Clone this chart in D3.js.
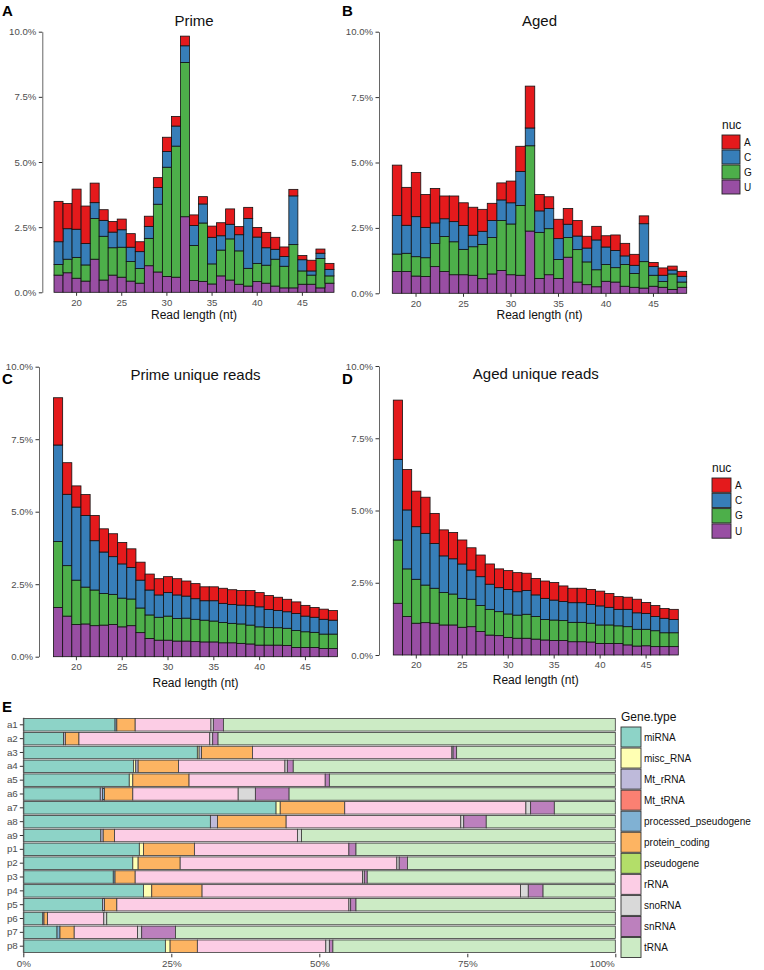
<!DOCTYPE html>
<html><head><meta charset="utf-8">
<script src="https://cdn.jsdelivr.net/npm/d3@7"></script>
<style>
body{margin:0;background:#fff;}
svg{font-family:"Liberation Sans",Arial,Helvetica,sans-serif;}
</style></head>
<body>
<svg id="chart" width="764" height="970"></svg>
<script>
// ---------- DATA ----------
const readLengths = [18,19,20,21,22,23,24,25,26,27,28,29,30,31,32,33,34,35,36,37,38,39,40,41,42,43,44,45,46,47,48];
const nucKeys = ["U","G","C","A"];            // stacked bottom -> top
const nucLegend = ["A","C","G","U"];
const nucColors = {A:"#E41A1C", C:"#377EB8", G:"#4DAF4A", U:"#984EA3"};
const xTicks = [20,25,30,35,40,45];
const yTicks = [0,2.5,5,7.5,10];

// Panel A: Prime (% of reads)
const primeU = [.66,.75,.54,.43,1.27,.47,.66,.58,.43,.35,1.02,.78,.61,.58,2.90,.45,.42,.32,.63,.47,.31,.24,.41,.35,.24,.17,.17,.31,.31,.17,.35];
const primeG = [.41,.52,.80,.62,1.56,1.68,1.05,1.15,.75,.56,1.05,2.60,4.19,5.03,5.92,1.35,2.24,.77,.99,1.58,1.28,.68,.70,.69,1.03,.83,1.66,.51,.35,1.13,.28];
const primeC = [.87,1.17,1.08,.82,.61,.61,.60,.67,.55,.65,.46,.64,.60,.77,.64,.76,.73,1.02,.55,.56,.62,1.91,1.01,.67,.38,.37,1.87,.43,.16,.20,.25];
const primeA = [1.55,.97,1.54,1.44,.75,.41,.41,.41,.52,.38,.39,.38,.55,.37,.37,.41,.28,.43,.50,.59,.31,.43,.37,.59,.46,.37,.25,.16,.41,.16,.23];

// Panel B: Aged
const agedU = [.83,.83,.66,.64,1.02,.83,.71,.71,.69,.56,.74,.87,.71,.69,2.38,.57,.71,.57,1.38,.43,.33,.25,.46,.43,.27,.23,.20,.27,.23,.15,.23];
const agedG = [.67,.70,.74,.72,.88,1.34,1.26,.97,1.09,1.31,1.39,1.91,1.94,2.67,3.26,1.76,1.76,.72,.75,1.24,.87,.65,.64,.55,.83,.53,1.01,.42,.22,.59,.20];
const agedC = [1.47,1.07,1.53,1.16,.79,.68,.77,.91,.44,.50,.65,.79,.81,1.30,.68,.82,.77,.80,.51,.52,.53,1.14,.67,.66,.33,.31,1.45,.33,.24,.15,.22];
const agedA = [1.93,1.45,1.69,1.26,1.32,.87,.98,.87,1.07,.84,.66,.65,.83,.96,1.60,.63,.45,.74,.60,.59,.45,.52,.43,.59,.48,.42,.30,.16,.28,.15,.19];

// Panel C: Prime unique reads
const primeUniqU = [1.70,1.40,1.11,1.13,1.07,1.09,1.11,1.03,1.07,.83,.63,.57,.57,.54,.54,.52,.51,.51,.48,.48,.46,.44,.40,.40,.40,.39,.32,.32,.32,.28,.28];
const primeUniqG = [2.27,1.74,1.53,1.27,1.23,1.09,1.04,.99,.92,.85,.81,.79,.83,.78,.79,.77,.75,.72,.70,.67,.67,.65,.63,.61,.60,.59,.58,.54,.52,.50,.50];
const primeUniqC = [3.33,2.46,2.52,2.47,1.70,1.43,1.30,1.18,1.09,.96,.86,.77,.81,.81,.76,.71,.67,.70,.66,.65,.65,.67,.69,.62,.59,.57,.59,.54,.52,.51,.48];
const primeUniqA = [1.63,1.09,.73,.72,.87,.80,.79,.74,.64,.62,.55,.56,.55,.56,.52,.52,.48,.48,.52,.51,.50,.52,.49,.48,.46,.43,.40,.37,.34,.35,.33];

// Panel D: Aged unique reads
const agedUniqU = [1.79,1.33,1.10,1.12,1.10,1.04,1.04,.96,.98,.81,.69,.67,.61,.58,.58,.55,.52,.50,.50,.46,.46,.45,.40,.40,.40,.35,.31,.32,.29,.29,.29];
const agedUniqG = [2.19,1.65,1.52,1.30,1.21,1.12,1.07,1.00,.95,.90,.89,.83,.81,.80,.83,.78,.71,.71,.69,.67,.67,.65,.64,.64,.61,.63,.58,.57,.55,.48,.48];
const agedUniqC = [2.79,2.04,1.82,1.79,1.55,1.27,1.22,1.19,1.01,1.00,.87,.83,.85,.81,.82,.75,.73,.69,.66,.68,.68,.65,.66,.61,.57,.60,.57,.55,.49,.50,.46];
const agedUniqA = [2.05,1.40,1.23,1.25,1.04,.90,.91,.83,.77,.75,.70,.65,.65,.66,.60,.57,.60,.61,.54,.50,.50,.52,.51,.48,.44,.42,.47,.38,.38,.34,.35];

// Panel E: gene type composition (%)
const samples = ["a1","a2","a3","a4","a5","a6","a7","a8","a9","p1","p2","p3","p4","p5","p6","p7","p8"];
const geneTypes = ["miRNA","misc_RNA","Mt_rRNA","Mt_tRNA","processed_pseudogene","protein_coding","pseudogene","rRNA","snoRNA","snRNA","tRNA"];
const geneColors = ["#8DD3C7","#FFFFB3","#BEBADA","#FB8072","#80B1D3","#FDB462","#B3DE69","#FCCDE5","#D9D9D9","#BC80BD","#CCEBC5"];
const miRNA   = [15.5,6.8,29.4,18.6,17.9,13.0,42.7,31.6,13.1,19.6,18.5,15.2,20.3,13.4,3.3,5.7,24.0];
const miscRNA = [0,0,0.3,0.4,0.6,0,0.7,0,0,0.7,0.9,0,1.4,0,0,0,0.8];
const MtrRNA  = [0,0.3,0.4,0.4,0,0.4,0,1.2,0.4,0,0,0,0,0.3,0.2,0,0];
const MttRNA  = [0,0,0,0,0,0,0,0,0,0,0,0,0,0,0,0,0];
const procPseudo = [0.3,0,0,0,0,0.3,0,0,0,0,0,0.3,0,0,0,0.5,0];
const proteinCoding = [3.1,2.3,8.6,6.8,9.5,4.8,10.9,11.6,1.9,8.6,7.1,3.4,8.5,2.1,0.6,2.4,4.6];
const pseudogene = [0,0,0,0,0,0,0,0,0,0,0,0,0,0,0,0,0];
const rRNA    = [12.8,22.1,33.7,18.0,23.0,17.8,30.6,29.5,30.9,26.1,36.6,38.4,53.8,39.2,9.5,10.7,21.7];
const snoRNA  = [0.4,0.5,0.2,0.4,0,2.9,0.8,0.5,0.7,0,0.4,0.3,1.3,0.3,0.5,0.7,0.6];
const snRNA   = [1.7,0.9,0.6,1.0,0.7,5.7,4.0,3.8,0,1.2,1.4,0.5,2.5,0.9,0,5.7,0.6];
const tRNA    = [66.2,67.1,26.8,54.4,48.3,55.1,10.3,21.8,53.0,43.8,35.1,41.9,12.2,43.8,85.9,74.3,47.7];
const percentTicks = [0,25,50,75,100];

// ---------- DRAW ----------
const svg = d3.select("#chart");
const tickGray = "#4d4d4d";

function nucPanel(cfg){
  const rows = readLengths.map((len,i)=>({len, U:cfg.U[i], G:cfg.G[i], C:cfg.C[i], A:cfg.A[i]}));
  const x = d3.scaleBand().domain(readLengths).range([cfg.x0,cfg.x1]).padding(0);
  const y = d3.scaleLinear().domain([0,10]).range([cfg.y0,cfg.y1]);
  const series = d3.stack().keys(nucKeys)(rows);
  const g = svg.append("g");
  g.selectAll("g.s").data(series).join("g").attr("fill",d=>nucColors[d.key])
    .selectAll("rect").data(d=>d).join("rect")
    .attr("x",d=>x(d.data.len)).attr("width",x.bandwidth())
    .attr("y",d=>y(d[1])).attr("height",d=>y(d[0])-y(d[1]))
    .attr("stroke","#111").attr("stroke-width",0.8);
  // y axis
  const ya = g.append("g").attr("transform",`translate(${cfg.ax},0)`)
    .call(d3.axisLeft(y).tickValues(yTicks).tickFormat(d=>d.toFixed(1)+"%").tickSize(3.5).tickSizeOuter(0).tickPadding(2.5));
  ya.select(".domain").attr("stroke","#555").attr("stroke-width",0.9);
  ya.selectAll(".tick line").attr("stroke","#333");
  ya.selectAll("text").attr("fill",tickGray).style("font-size","9.6px");
  // x axis
  const xa = g.append("g").attr("transform",`translate(0,${cfg.y0})`)
    .call(d3.axisBottom(x).tickValues(xTicks).tickSize(3.5).tickPadding(3));
  xa.select(".domain").remove();
  xa.selectAll(".tick line").attr("stroke","#333");
  xa.selectAll("text").attr("fill",tickGray).style("font-size","9.6px");
  // titles
  g.append("text").attr("x",(cfg.x0+cfg.x1)/2).attr("y",cfg.titleY).attr("text-anchor","middle")
    .style("font-size","15px").attr("fill","#111").text(cfg.title);
  g.append("text").attr("x",(cfg.x0+cfg.x1)/2).attr("y",cfg.xlabY).attr("text-anchor","middle")
    .style("font-size","12px").attr("fill","#111").text("Read length (nt)");
  g.append("text").attr("x",cfg.letterX).attr("y",cfg.letterY)
    .style("font-size","15px").style("font-weight","bold").attr("fill","#000").text(cfg.letter);
}

nucPanel({U:primeU,G:primeG,C:primeC,A:primeA,x0:54,x1:334,y0:292.3,y1:31.7,ax:42.3,title:"Prime",titleY:26,xlabY:319,letter:"A",letterX:2,letterY:16});
nucPanel({U:agedU,G:agedG,C:agedC,A:agedA,x0:392.3,x1:686.7,y0:293.3,y1:31.7,ax:379,title:"Aged",titleY:26,xlabY:319,letter:"B",letterX:342,letterY:16});
nucPanel({U:primeUniqU,G:primeUniqG,C:primeUniqC,A:primeUniqA,x0:53.5,x1:337.5,y0:656.7,y1:366.7,ax:39,title:"Prime unique reads",titleY:380,xlabY:687,letter:"C",letterX:2,letterY:384});
nucPanel({U:agedUniqU,G:agedUniqG,C:agedUniqC,A:agedUniqA,x0:393.3,x1:678.3,y0:655,y1:366,ax:379,title:"Aged unique reads",titleY:379,xlabY:684,letter:"D",letterX:342,letterY:384});

function nucLegendDraw(lx, ly, kw, kh){
  const g = svg.append("g");
  g.append("text").attr("x",lx).attr("y",ly).style("font-size","12px").attr("fill","#111").text("nuc");
  nucLegend.forEach((k,i)=>{
    const ky = ly+6+i*(kh+1);
    g.append("rect").attr("x",lx).attr("y",ky).attr("width",kw).attr("height",kh)
      .attr("fill",nucColors[k]).attr("stroke","#222").attr("stroke-width",0.9);
    g.append("text").attr("x",lx+kw+4).attr("y",ky+kh/2).attr("dy","0.35em")
      .style("font-size","10px").attr("fill","#111").text(k);
  });
}
nucLegendDraw(722,129,18,14);
nucLegendDraw(712,472,19,14.3);

// Panel E
(function(){
  const cols = [miRNA,miscRNA,MtrRNA,MttRNA,procPseudo,proteinCoding,pseudogene,rRNA,snoRNA,snRNA,tRNA];
  const rows = samples.map((s,i)=>{const o={s}; geneTypes.forEach((t,j)=>o[t]=cols[j][i]); return o;});
  const x = d3.scaleLinear().domain([0,100]).range([23.3,615.3]);
  const y = d3.scaleBand().domain(samples).range([717.2,953.8]).padding(0.1);
  const series = d3.stack().keys(geneTypes).offset(d3.stackOffsetExpand)(rows);
  const color = d3.scaleOrdinal().domain(geneTypes).range(geneColors);
  const g = svg.append("g");
  g.selectAll("g.s").data(series).join("g").attr("fill",d=>color(d.key))
    .selectAll("rect").data(d=>d).join("rect")
    .attr("x",d=>x(d[0]*100)).attr("width",d=>Math.max(0,x(d[1]*100)-x(d[0]*100)))
    .attr("y",d=>y(d.data.s)).attr("height",y.bandwidth())
    .attr("stroke","#3a3a3a").attr("stroke-width",0.8);
  const ya = g.append("g").attr("transform","translate(23.3,0)")
    .call(d3.axisLeft(y).tickSize(3.5).tickSizeOuter(0).tickPadding(2));
  ya.select(".domain").attr("stroke","#555");
  ya.selectAll(".tick line").attr("stroke","#333");
  ya.selectAll("text").attr("fill",tickGray).style("font-size","9.8px");
  const xa = g.append("g").attr("transform","translate(0,953.8)")
    .call(d3.axisBottom(x).tickValues(percentTicks).tickFormat(d=>d+"%").tickSize(3.5).tickPadding(2.5));
  xa.select(".domain").remove();
  xa.selectAll(".tick line").attr("stroke","#333");
  xa.selectAll("text").attr("fill",tickGray).style("font-size","9.8px");
  xa.selectAll(".tick").filter(d=>d===100).select("text").attr("text-anchor","end").attr("x",-1);
  g.append("text").attr("x",2).attr("y",712).style("font-size","15px").style("font-weight","bold").text("E");
  // legend
  g.append("text").attr("x",621).attr("y",721).style("font-size","12px").attr("fill","#111").text("Gene.type");
  geneTypes.forEach((t,i)=>{
    const ky = 727+i*21.05;
    g.append("rect").attr("x",621).attr("y",ky).attr("width",20).attr("height",20)
      .attr("fill",color(t)).attr("stroke","#333").attr("stroke-width",0.9);
    g.append("text").attr("x",644).attr("y",ky+10).attr("dy","0.35em")
      .style("font-size","10px").attr("fill","#111").text(t);
  });
})();
</script>
</body></html>
